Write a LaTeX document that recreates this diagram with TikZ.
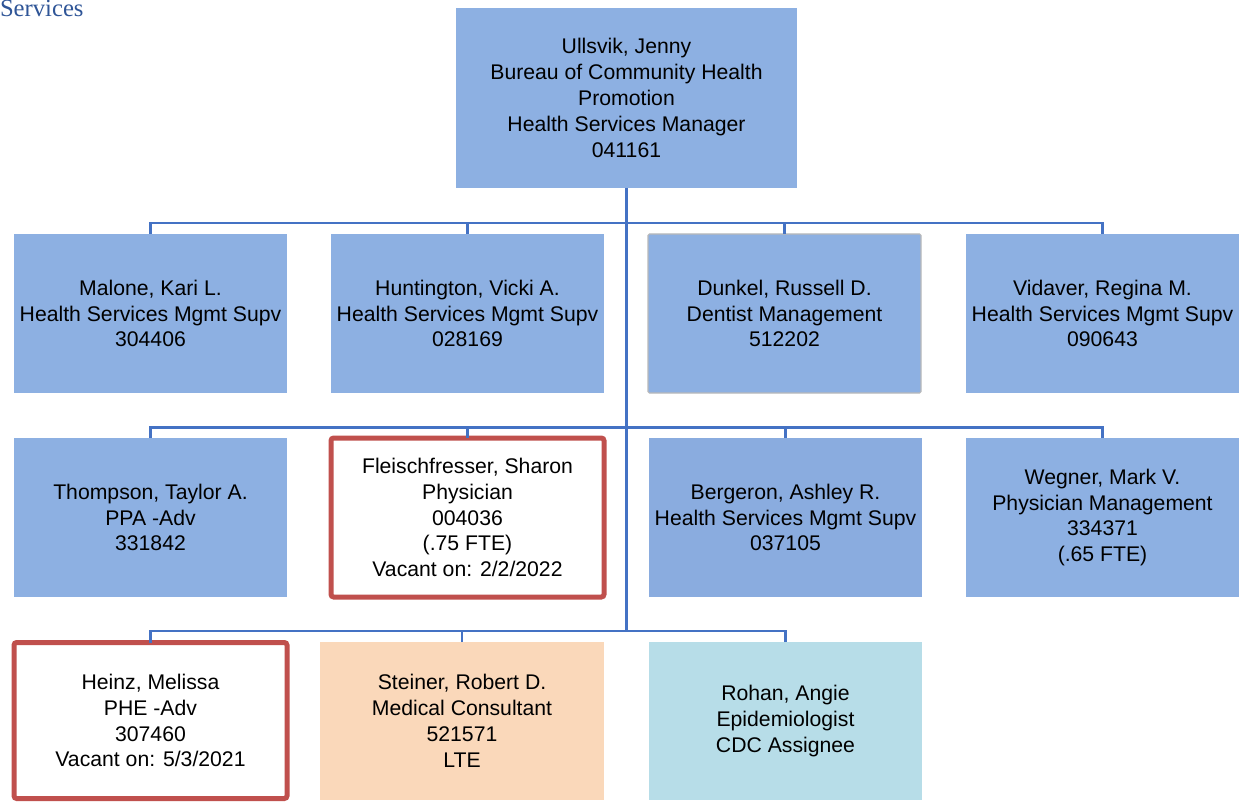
\documentclass[tikz,border=0pt]{standalone}
\usepackage{fontspec}
\setmainfont{Liberation Sans}
\newfontfamily\hdrfont{Liberation Serif}
\definecolor{boxblue}{HTML}{8DB0E2}
\definecolor{boxblueB}{HTML}{8AACDF}
\definecolor{linkblue}{HTML}{4472C4}
\definecolor{peach}{HTML}{FAD8BA}
\definecolor{lightcyan}{HTML}{B7DDE8}
\definecolor{vacred}{HTML}{C0504D}
\definecolor{hdrblue}{HTML}{2F5597}
\begin{document}
\begin{tikzpicture}[x=0.75pt,y=-0.75pt,
  every node/.style={inner sep=0pt, outer sep=0pt, align=center, font=\fontsize{15.9}{19.4}\selectfont},
  card/.style={anchor=north west, minimum width=204.75pt, minimum height=119.25pt, fill=boxblue},
  vacant/.style={card, fill=white, draw=vacred, line width=3.75pt, rounded corners=2pt},
  link/.style={draw=linkblue, line width=2.2pt}]
\useasboundingbox (0,0) rectangle (1239,802);
% header fragment
\node[anchor=base west, font=\hdrfont\fontsize{18.5}{20}\selectfont, text=hdrblue] (hdr) at (0,17) {Services};
% top
\node[card, minimum width=255.75pt, minimum height=135pt] (top) at (456,8)
  {Ullsvik, Jenny\\Bureau of Community Health\\Promotion\\Health Services Manager\\041161};
% row 1
\node[card] (malone) at (14,234) {Malone, Kari L.\\Health Services Mgmt Supv\\304406};
\node[card] (hunt) at (331,234) {Huntington, Vicki A.\\Health Services Mgmt Supv\\028169};
\node[card, draw=gray!55, line width=0.8pt, rounded corners=1pt] (dunkel) at (648,234) {Dunkel, Russell D.\\Dentist Management\\512202};
\node[card] (vida) at (966,234) {Vidaver, Regina M.\\Health Services Mgmt Supv\\090643};
% row 2
\node[card] (thomp) at (14,438) {Thompson, Taylor A.\\PPA -Adv\\331842};
\node[vacant] (fleisch) at (331,438) {Fleischfresser, Sharon\\Physician\\004036\\(.75 FTE)\\Vacant on: 2/2/2022};
\node[card, fill=boxblueB] (berg) at (649,438) {Bergeron, Ashley R.\\Health Services Mgmt Supv\\037105};
\node[card] (wegner) at (966,438) {Wegner, Mark V.\\Physician Management\\334371\\(.65 FTE)};
% row 3
\node[vacant, minimum height=117pt] (heinz) at (14,642.5) {Heinz, Melissa\\PHE -Adv\\307460\\Vacant on: 5/3/2021};
\node[card, fill=peach, minimum width=213pt, minimum height=118.5pt] (steiner) at (320,642) {Steiner, Robert D.\\Medical Consultant\\521571\\LTE};
\node[card, fill=lightcyan, minimum height=118.5pt] (rohan) at (649,642) {Rohan, Angie\\Epidemiologist\\CDC Assignee};
% junctions on trunk
\coordinate (j1) at (626.5,223);
\coordinate (j2) at (626.5,427.5);
\coordinate (j3) at (626.5,631);
% connectors
\draw[link] (top.south) -- (j3);
\draw[link] (malone.north) |- (j1);
\draw[link] (hunt.north) |- (j1);
\draw[link] (dunkel.north) |- (j1);
\draw[link] (vida.north) |- (j1);
\draw[link] (thomp.north) |- (j2);
\draw[link] (fleisch.north) |- (j2);
\draw[link] (berg.north) |- (j2);
\draw[link] (wegner.north) |- (j2);
\draw[link] (heinz.north) |- (j3);
\draw[link] (steiner.north) |- (j3);
\draw[link] (rohan.north) |- (j3);
\end{tikzpicture}
\end{document}
